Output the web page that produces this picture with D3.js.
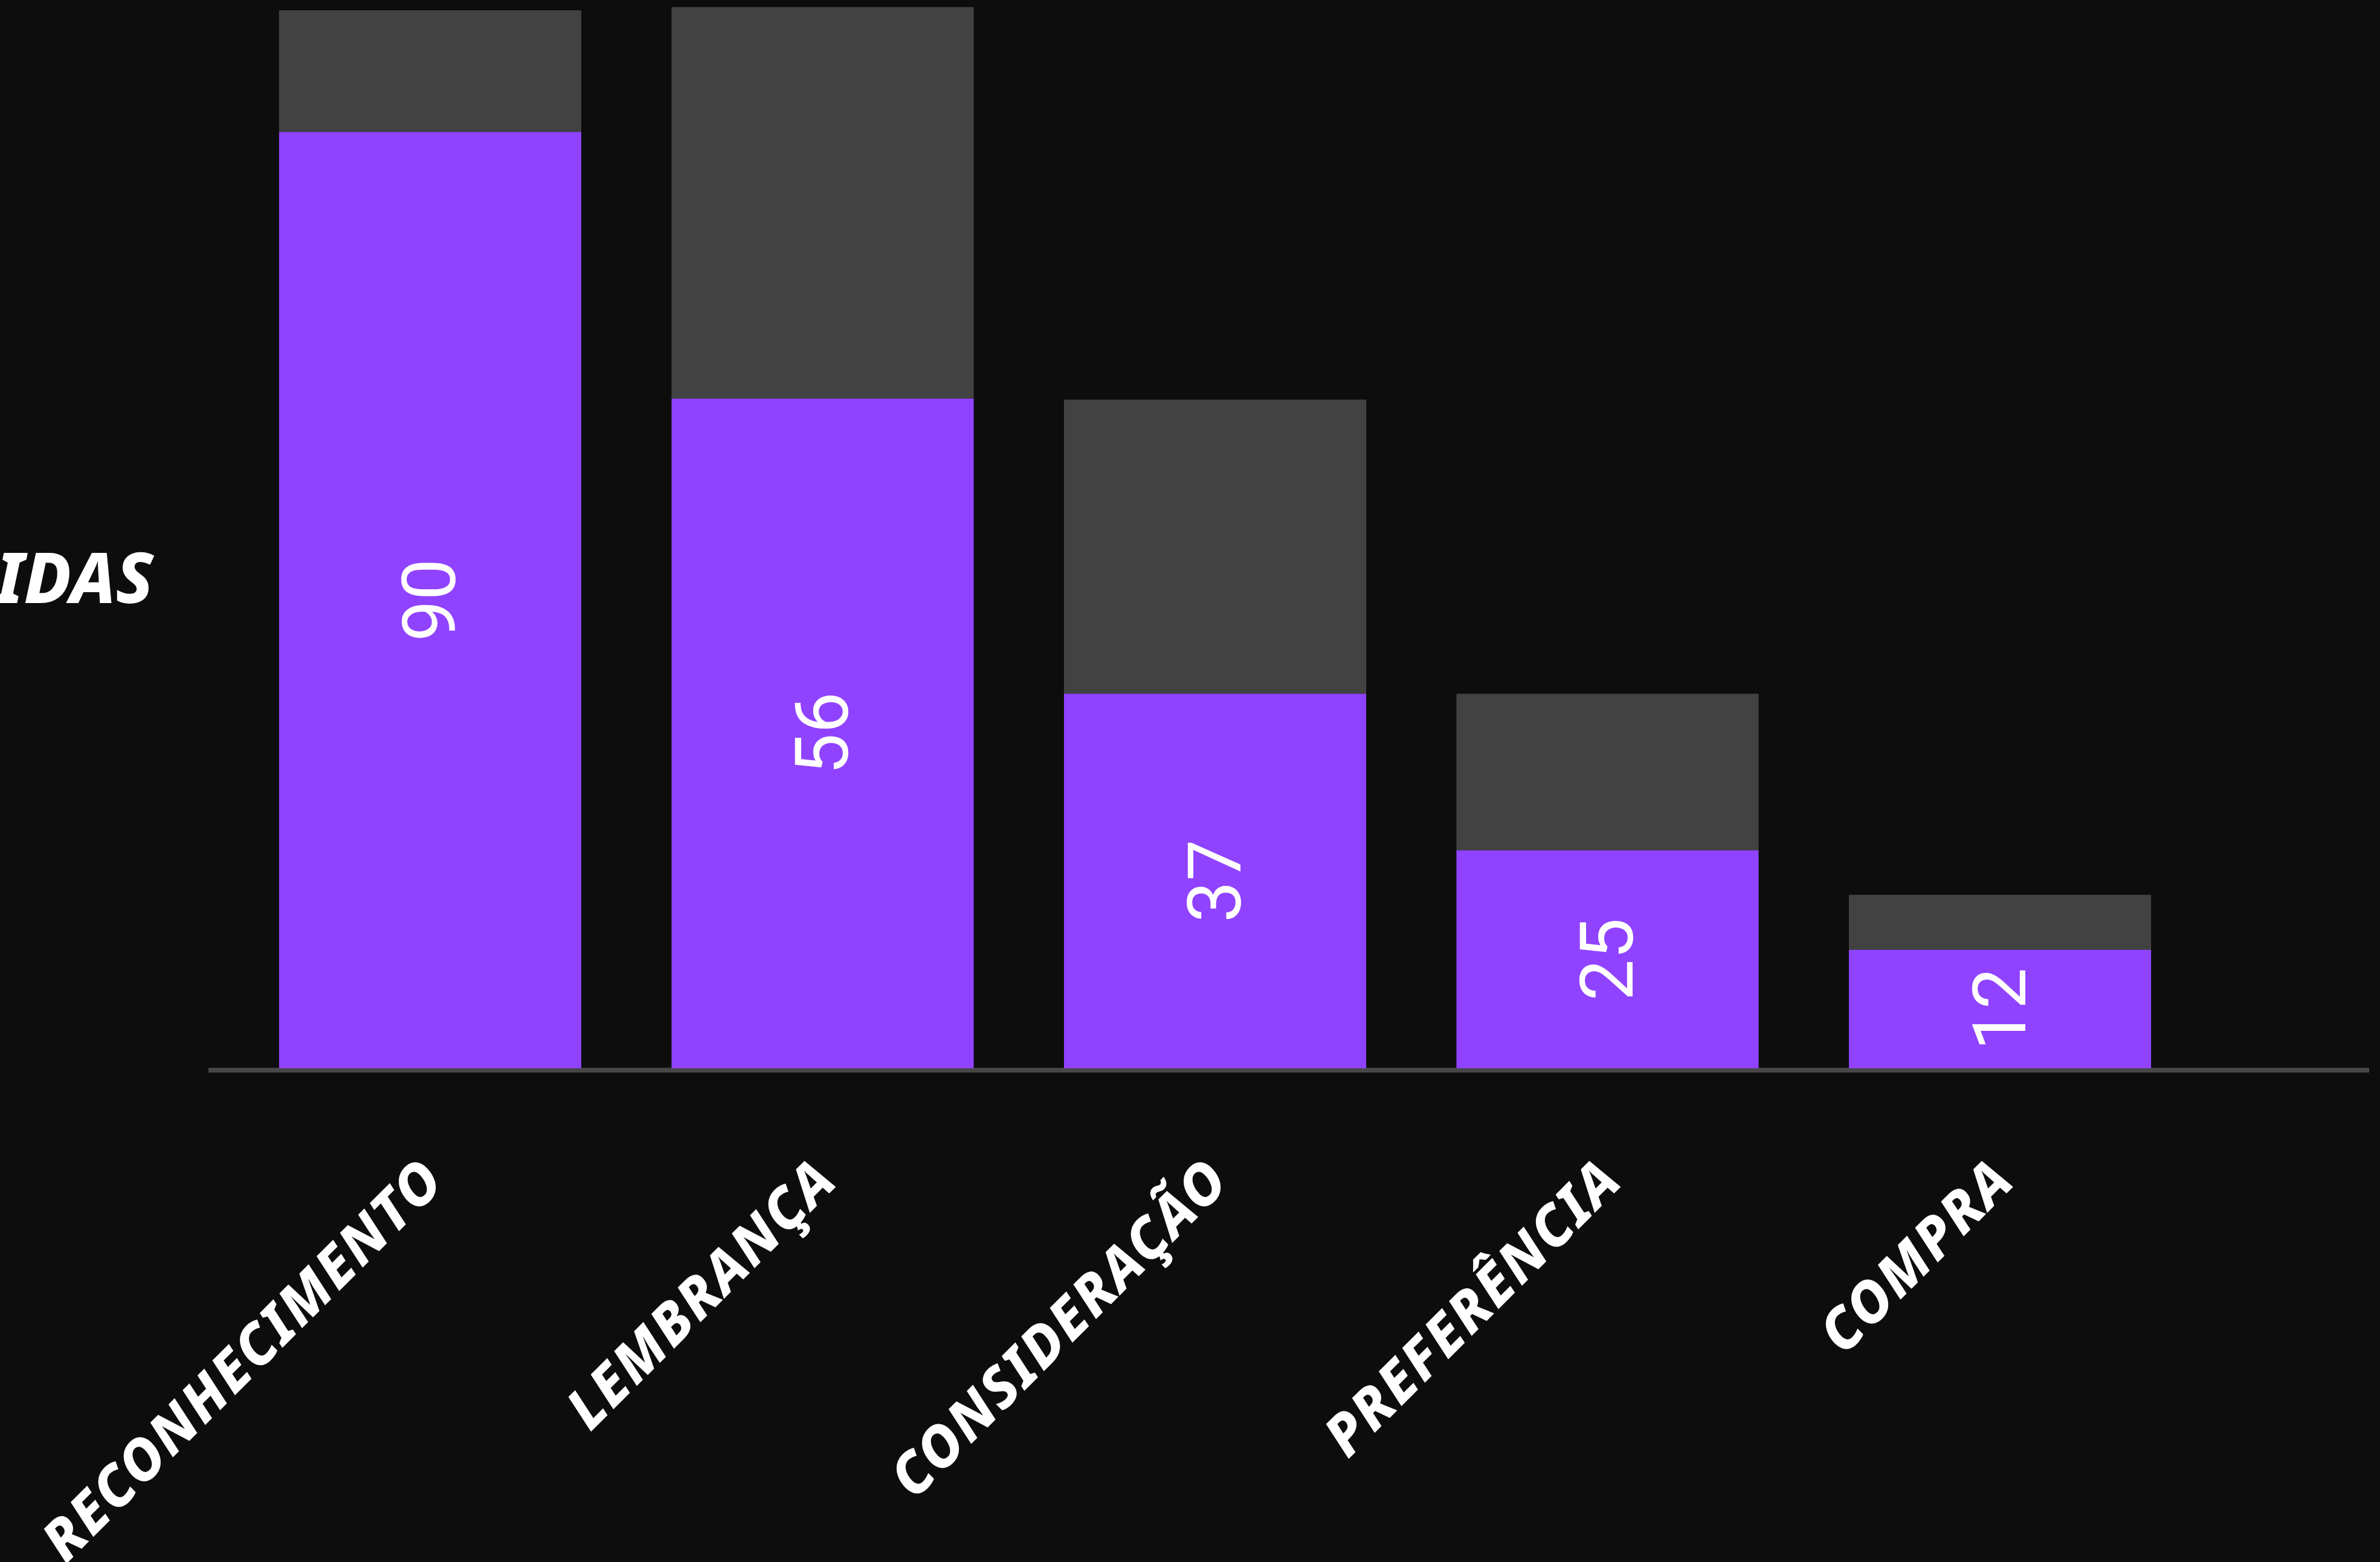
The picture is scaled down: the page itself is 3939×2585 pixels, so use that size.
<!DOCTYPE html>
<html>
<head>
<meta charset="utf-8">
<script src="https://cdn.jsdelivr.net/npm/d3@7"></script>
<style>
  html, body { margin: 0; padding: 0; background: #0d0d0d; }
  svg { display: block; }
</style>
</head>
<body>
<svg id="chart" width="3939" height="2585"></svg>
<script>
// ---- data ----
const categories = ["RECONHECIMENTO", "LEMBRANÇA", "CONSIDERAÇÃO", "PREFERÊNCIA", "COMPRA"];
// height of the purple part of each bar (0–100 scale)
const reached = [88.5, 63.3, 35.4, 20.6, 11.2];
// height of the full bar (purple + grey), 0–100 scale
const totals = [100, 100.3, 63.2, 35.4, 16.4];
// numbers printed inside the purple bars
const valueLabels = ["90", "56", "37", "25", "12"];
const sideTitle = "PESSOAS ATINGIDAS";

// ---- layout ----
const W = 3939, H = 2585;
const svg = d3.select("#chart");
svg.append("rect").attr("width", W).attr("height", H).attr("fill", "#0d0d0d");

const x = d3.scaleBand()
  .domain(categories)
  .range([312.5, 3709.5])
  .paddingInner(0.23)
  .paddingOuter(0.23);

const y = d3.scaleLinear().domain([0, 100]).range([1768, 17]);

// baseline (axis line)
svg.append("line")
  .attr("x1", 345).attr("x2", 3921)
  .attr("y1", 1771).attr("y2", 1771)
  .attr("stroke", "#474747").attr("stroke-width", 8);

const rows = categories.map((c, i) => ({ c, reached: reached[i], total: totals[i], label: valueLabels[i] }));

// grey (remaining) part
svg.append("g").selectAll("rect").data(rows).join("rect")
  .attr("x", d => x(d.c))
  .attr("width", x.bandwidth())
  .attr("y", d => y(d.total))
  .attr("height", d => y(d.reached) - y(d.total))
  .attr("fill", "#424242");

// purple part
svg.append("g").selectAll("rect").data(rows).join("rect")
  .attr("x", d => x(d.c))
  .attr("width", x.bandwidth())
  .attr("y", d => y(d.reached))
  .attr("height", d => y(0) - y(d.reached))
  .attr("fill", "#9043ff");

// value labels, rotated
svg.append("g").selectAll("text").data(rows).join("text")
  .attr("transform", d => {
    const cx = x(d.c) + x.bandwidth() / 2;
    const cy = (y(d.reached) + y(0)) / 2;
    return `translate(${cx},${cy}) rotate(-90)`;
  })
  .attr("text-anchor", "middle")
  .attr("dominant-baseline", "central")
  .attr("font-family", "Roboto, 'Open Sans', sans-serif")
  .attr("font-size", 122)
  .attr("fill", "#ffffff")
  .text(d => d.label);

// category labels, rotated -45
svg.append("g").selectAll("text").data(rows).join("text")
  .attr("transform", d => {
    const cx = x(d.c) + x.bandwidth() / 2;
    return `translate(${cx + 28},1958) rotate(-45)`;
  })
  .attr("text-anchor", "end")
  .attr("font-family", "'Noto Sans', 'Open Sans', sans-serif")
  .attr("font-weight", 800)
  .attr("font-style", "italic")
  .attr("font-size", 94)
  .attr("letter-spacing", 3)
  .attr("fill", "#ffffff")
  .text(d => d.c);

// side title (partially outside the canvas on the left)
svg.append("text")
  .attr("x", 254).attr("y", 998)
  .attr("text-anchor", "end")
  .attr("font-family", "'Noto Sans', 'Open Sans', sans-serif")
  .attr("font-weight", 800)
  .attr("font-style", "italic")
  .attr("font-size", 116)
  .attr("fill", "#ffffff")
  .text(sideTitle);
</script>
</body>
</html>
